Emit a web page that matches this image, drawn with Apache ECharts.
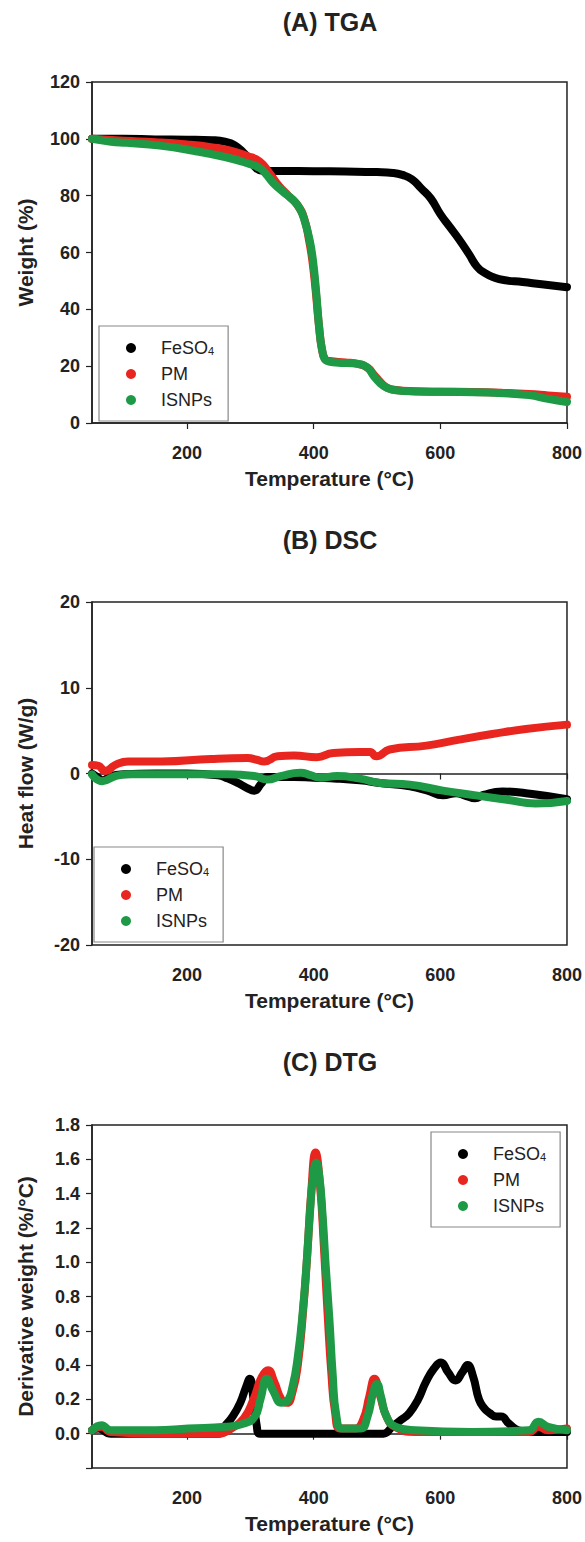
<!DOCTYPE html>
<html><head><meta charset="utf-8">
<script src="https://cdn.jsdelivr.net/npm/echarts@6/dist/echarts.min.js"></script>
<style>html,body{margin:0;padding:0;background:#fff}#c{width:585px;height:1542px}</style>
</head><body><div id="c"></div>
<script>
// ---------- DATA ----------
const seriesNames = ['FeSO4', 'PM', 'ISNPs'];
const titles = ['(A) TGA', '(B) DSC', '(C) DTG'];
const xTicks = [200, 400, 600, 800];

// (A) TGA : [temperature, weight %]
const tgaFeSO4 = [[50,100],[100,100],[150,99.8],[200,99.7],[240,99.5],[260,99],[275,97.8],[290,95],[300,92.5],[310,89.5],[320,88.8],[350,88.7],[400,88.6],[450,88.5],[500,88.3],[525,88],[540,87.3],[555,85.8],[570,82.5],[585,79],[600,73.5],[615,69],[630,64.5],[645,59.5],[658,55],[670,52.8],[685,51.2],[700,50.3],[730,49.6],[760,48.8],[800,47.8]];
const tgaPM = [[50,100],[100,99.3],[150,98.8],[200,98],[240,97],[270,95.8],[295,94],[315,92],[330,88],[345,83.5],[360,80],[375,76.5],[385,72],[393,64],[398,57],[403,47],[408,35],[413,26],[418,22.5],[425,21.8],[450,21.3],[470,20.8],[485,19.5],[495,17],[505,14.5],[515,12.5],[530,11.6],[560,11.2],[600,11],[650,10.9],[700,10.6],[740,10.2],[770,9.7],[800,9.2]];
const tgaISNPs = [[50,100],[80,99],[105,98.6],[157,97.6],[210,95.8],[260,93.6],[294,91.5],[315,89.7],[325,87.5],[336,84.5],[351,81.5],[367,78.6],[378,75.5],[386,71],[394,64],[399,57],[404,46],[409,33],[414,25],[420,22],[435,21.3],[470,20.8],[485,19.5],[495,16.5],[505,14],[515,12.5],[530,11.5],[560,11.1],[630,10.9],[700,10.5],[740,9.8],[770,8.5],[800,7.4]];

// (B) DSC : [temperature, heat flow W/g]
const dscFeSO4 = [[50,0],[60,-0.5],[66,-0.8],[80,-0.3],[100,-0.1],[150,0],[200,0],[249,-0.2],[265,-0.6],[280,-1.1],[295,-1.7],[306,-2.0],[317,-1.2],[327,-0.4],[350,-0.4],[369,-0.4],[400,-0.5],[437,-0.6],[473,-0.8],[505,-1.1],[552,-1.5],[580,-2.0],[604,-2.55],[625,-2.3],[640,-2.6],[655,-2.9],[668,-2.5],[698,-2.1],[745,-2.4],[800,-3.0]];
const dscPM = [[50,1.0],[60,0.9],[71,0.3],[87,1.0],[107,1.4],[160,1.4],[238,1.7],[296,1.8],[310,1.6],[322,1.4],[343,2.0],[369,2.1],[405,1.9],[431,2.4],[473,2.5],[489,2.5],[499,2.0],[520,2.8],[578,3.25],[630,3.95],[682,4.6],[735,5.2],[800,5.7]];
const dscISNPs = [[50,-0.1],[66,-0.9],[87,-0.3],[107,-0.1],[264,-0.1],[306,-0.3],[327,-0.7],[348,-0.3],[379,0.1],[395,-0.2],[411,-0.5],[437,-0.3],[473,-0.6],[505,-1.1],[552,-1.3],[604,-2.0],[656,-2.55],[708,-3.1],[750,-3.5],[800,-3.2]];

// (C) DTG : [temperature, derivative weight %/°C]
const dtgFeSO4 = [[50,0.02],[60,0.03],[80,0.0],[150,0.0],[250,0.0],[261,0.05],[272,0.1],[284,0.18],[293,0.27],[299,0.32],[305,0.2],[310,0.05],[315,0.0],[350,0.0],[450,0.0],[510,0.0],[524,0.04],[538,0.08],[551,0.12],[565,0.2],[577,0.3],[590,0.38],[601,0.415],[612,0.36],[624,0.31],[635,0.36],[643,0.40],[652,0.33],[661,0.2],[669,0.15],[678,0.12],[688,0.1],[696,0.1],[708,0.06],[723,0.02],[740,0.01],[800,0.01]];
const dtgPM = [[50,0.02],[65,0.04],[80,0.01],[150,0.0],[250,0.0],[270,0.03],[290,0.09],[305,0.2],[318,0.33],[328,0.37],[338,0.3],[349,0.2],[358,0.18],[367,0.25],[375,0.4],[383,0.7],[390,1.05],[396,1.4],[403,1.64],[410,1.45],[416,1.1],[422,0.7],[428,0.35],[434,0.12],[442,0.03],[465,0.03],[478,0.08],[488,0.22],[496,0.32],[505,0.22],[515,0.1],[528,0.04],[560,0.01],[650,0.01],[740,0.01],[755,0.04],[770,0.02],[800,0.03]];
const dtgISNPs = [[50,0.02],[65,0.05],[80,0.02],[150,0.02],[202,0.03],[261,0.04],[290,0.06],[307,0.1],[316,0.2],[326,0.32],[336,0.25],[349,0.18],[358,0.19],[367,0.28],[375,0.45],[383,0.72],[389,1.0],[394,1.28],[399,1.5],[404,1.58],[409,1.5],[414,1.28],[419,0.98],[425,0.66],[430,0.35],[436,0.1],[445,0.03],[474,0.03],[485,0.1],[494,0.24],[500,0.29],[506,0.22],[515,0.1],[530,0.04],[560,0.02],[650,0.01],[740,0.02],[755,0.07],[770,0.04],[800,0.02]];

// ---------- STYLE / LAYOUT ----------
const FONT = '"Liberation Sans", Arial, Helvetica, sans-serif';
const INK = '#222';
const colors = ['#000000', '#e8261f', '#1e9a47'];
const grids = [
  {left: 92, right: 17, top: 82, height: 341},
  {left: 92, right: 17, top: 602, height: 343},
  {left: 92, right: 17, top: 1125, height: 343}
];
const yCfg = [
  {min: 0, max: 120, interval: 20, name: 'Weight (%)', fmt: v => String(v)},
  {min: -20, max: 20, interval: 10, name: 'Heat flow (W/g)', fmt: v => String(v)},
  {min: -0.2, max: 1.8, interval: 0.2, name: 'Derivative weight (%/°C)', fmt: v => (v < -0.1 ? '' : v.toFixed(1))}
];
const titleY = [22, 540, 1062];
const legendPos = [
  {left: 99, top: 326},
  {left: 94, top: 847},
  {left: 431, top: 1132}
];
const dataSets = [
  [tgaFeSO4, tgaPM, tgaISNPs],
  [dscFeSO4, dscPM, dscISNPs],
  [dtgFeSO4, dtgPM, dtgISNPs]
];

const xAxes = grids.map((g, i) => ({
  type: 'value', gridIndex: i, min: 50, max: 800,
  name: 'Temperature (°C)', nameLocation: 'middle', nameGap: 45,
  nameTextStyle: {fontFamily: FONT, fontWeight: 'bold', fontSize: 21, color: INK},
  axisLine: {show: true, lineStyle: {color: INK, width: 1.5}},
  axisTick: {show: true, inside: false, length: 6, customValues: xTicks, lineStyle: {color: INK, width: 1.2}},
  axisLabel: {show: true, customValues: xTicks, margin: 21, fontFamily: FONT, fontWeight: 'bold', fontSize: 18, color: INK},
  splitLine: {show: false}
}));
const yAxes = yCfg.map((c, i) => ({
  type: 'value', gridIndex: i, min: c.min, max: c.max, interval: c.interval,
  name: c.name, nameLocation: 'middle', nameGap: 56,
  nameTextStyle: {fontFamily: FONT, fontWeight: 'bold', fontSize: 21, color: INK},
  axisLine: {show: true, lineStyle: {color: INK, width: 1.5}},
  axisTick: {show: true, inside: false, length: 6, lineStyle: {color: INK, width: 1.2}},
  axisLabel: {show: true, margin: 12, formatter: c.fmt, fontFamily: FONT, fontWeight: 'bold', fontSize: 18, color: INK},
  splitLine: {show: false}
}));

const series = [];
dataSets.forEach((sets, gi) => {
  sets.forEach((d, si) => {
    series.push({
      type: 'line', name: seriesNames[si], xAxisIndex: gi, yAxisIndex: gi,
      data: d, showSymbol: false, smooth: 0.5,
      lineStyle: {color: colors[si], width: 8, cap: 'round', join: 'round'},
      itemStyle: {color: colors[si]},
      z: 2 + si, silent: true, animation: false
    });
  });
});

const legends = legendPos.map(p => ({
  left: p.left, top: p.top, orient: 'vertical', data: seriesNames,
  icon: 'circle', itemWidth: 50, itemHeight: 10, itemGap: 8,
  padding: [13, 14, 12, 27],
  borderColor: '#888', borderWidth: 1.2, backgroundColor: '#fff',
  selectedMode: false,
  formatter: n => (n === 'FeSO4' ? '{t|FeSO}{s|4}' : '{t|' + n + '}'),
  textStyle: {
    fontFamily: FONT, fontSize: 18, color: INK,
    rich: {
      t: {fontFamily: FONT, fontSize: 18, lineHeight: 17, color: INK},
      s: {fontFamily: FONT, fontSize: 11, verticalAlign: 'bottom', color: INK}
    }
  }
}));

const graphics = titles.map((t, i) => ({
  type: 'text', x: 330, y: titleY[i],
  style: {text: t, fontFamily: FONT, fontWeight: 'bold', fontSize: 25, fill: INK, align: 'center', verticalAlign: 'middle'}
}));

const chart = echarts.init(document.getElementById('c'), null, {renderer: 'svg'});
chart.setOption({
  animation: false,
  backgroundColor: '#fff',
  grid: grids.map(g => Object.assign({show: true, borderColor: INK, borderWidth: 1.5, backgroundColor: 'transparent'}, g)),
  xAxis: xAxes,
  yAxis: yAxes,
  legend: legends,
  graphic: graphics,
  series: series
});
</script></body></html>
